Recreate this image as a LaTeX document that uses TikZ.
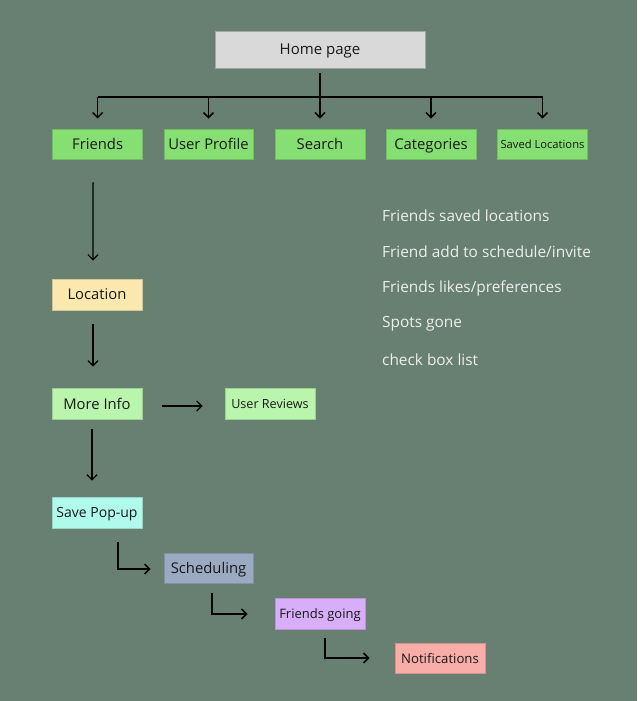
\documentclass[tikz,border=0pt]{standalone}
\usepackage{fontspec}
\setmainfont{Open Sans}
\usetikzlibrary{arrows.meta}
\definecolor{bg}{RGB}{104,128,113}
\definecolor{homegray}{RGB}{217,217,217}
\definecolor{topgreen}{RGB}{133,223,114}
\definecolor{locyellow}{RGB}{250,232,174}
\definecolor{lightgreen}{RGB}{186,245,173}
\definecolor{mint}{RGB}{175,250,235}
\definecolor{slate}{RGB}{155,169,194}
\definecolor{lilac}{RGB}{216,174,248}
\definecolor{salmon}{RGB}{248,173,168}
\definecolor{notecol}{RGB}{238,238,238}
\tikzset{
  box/.style={rectangle, draw=#1!85!black, line width=0.8pt, fill=#1, inner sep=0pt,
    minimum width=90pt, minimum height=31pt, text=black!90, text depth=0pt,
    font=\fontsize{14.8}{17}\selectfont},
  treeline/.style={line width=2pt, black},
  arr/.style={line width=1.3pt, black, -{Straight Barb[length=5pt,width=10pt,line width=1.3pt]}},
  elbow/.style={line width=1.8pt, black, -{Straight Barb[length=5pt,width=10pt,line width=1.5pt]}},
  tarr/.style={line width=1.6pt, black, -{Straight Barb[length=5pt,width=10pt,line width=1.5pt]}},
  note/.style={anchor=west, text=notecol, inner sep=0pt, font=\fontsize{15.4}{17}\selectfont}
}
\begin{document}
\begin{tikzpicture}[x=1pt,y=-1pt]
\fill[bg] (0,0) rectangle (637,701);
\useasboundingbox (0,0) rectangle (637,701);

\node[box=homegray, draw=black!35, minimum width=210pt, minimum height=37pt, font=\fontsize{15}{17}\selectfont] (home) at (320,49.5) {Home page};

\node[box=topgreen, minimum height=30pt] (friends) at (97.6,144) {Friends};
\node[box=topgreen, minimum height=30pt, minimum width=89pt] (profile) at (208.5,144) {User Profile};
\node[box=topgreen, minimum height=30pt] (search) at (320,144) {Search};
\node[box=topgreen, minimum height=30pt] (categories) at (431,144) {Categories};
\node[box=topgreen, minimum height=30pt, font=\fontsize{11.2}{13}\selectfont] (saved) at (542.5,144) {Saved Locations};

\node[box=locyellow] (location) at (97,294.5) {Location};
\node[box=lightgreen] (moreinfo) at (97,403.5) {More Info};
\node[box=lightgreen, font=\fontsize{12.6}{14}\selectfont] (reviews) at (270,403.5) {User Reviews};
\node[box=mint, font=\fontsize{14}{16}\selectfont] (savepop) at (97,512.5) {Save Pop-up};
\node[box=slate, minimum width=89pt, minimum height=30pt] (sched) at (208.5,568) {Scheduling};
\node[box=lilac, font=\fontsize{13}{15}\selectfont] (going) at (320,613.5) {Friends going};
\node[box=salmon, minimum height=30pt, font=\fontsize{13.2}{15}\selectfont] (notif) at (440,658) {Notifications};

\coordinate (J) at (320,97);

% tree from home page
\draw[treeline] ([yshift=-5pt]home.south) -- (J);
\draw[treeline] (friends.north |- J) -- (saved.north |- J);
\foreach \n in {friends,profile,search,categories,saved}
  \draw[tarr] (\n.north |- J) -- ([yshift=10pt]\n.north);

% vertical chain
\draw[arr] ([xshift=-4.5pt,yshift=-23pt]friends.south) -- ([xshift=-4pt,yshift=18pt]location.north);
\draw[arr] ([xshift=-4pt,yshift=-14pt]location.south) -- ([xshift=-4pt,yshift=21pt]moreinfo.north);
\draw[arr] ([xshift=20pt,yshift=-2.5pt]moreinfo.east) -- ([xshift=-22pt,yshift=-2.5pt]reviews.west);
\draw[arr] ([xshift=-5pt,yshift=-10pt]moreinfo.south) -- ([xshift=-5pt,yshift=16pt]savepop.north);

% elbow connectors
\draw[elbow] ([xshift=21pt,yshift=-14pt]savepop.south) |- ([xshift=-13pt,yshift=-1pt]sched.west);
\draw[elbow] ([xshift=3.5pt,yshift=-10pt]sched.south) |- ([xshift=-27pt,yshift=-0.5pt]going.west);
\draw[elbow] ([xshift=5pt,yshift=-9pt]going.south) |- ([xshift=-25pt]notif.west);

% notes
\node[note] (n1) at (382,216) {Friends saved locations};
\node[note] (n2) at (382,252) {Friend add to schedule/invite};
\node[note] (n3) at (382,288) {Friends likes/preferences};
\node[note] (n4) at (382,324) {Spots gone};
\node[note] (n5) at (382,360) {check box list};
\end{tikzpicture}
\end{document}
